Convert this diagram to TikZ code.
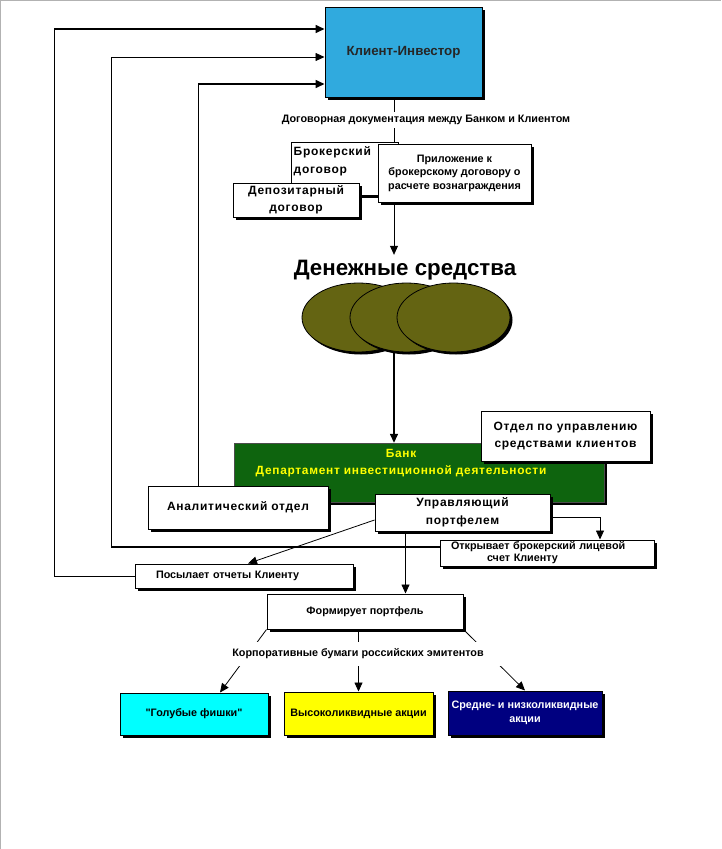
\documentclass[tikz,border=0pt]{standalone}
\usepackage{fontspec}
\setmainfont{Liberation Sans}
\newfontfamily\widefont{Liberation Sans}[LetterSpace=6.0]
\newfontfamily\plainfont{Liberation Sans}
\usetikzlibrary{
  arrows.meta,
  calc,
  positioning,
  shadows,
  shapes.geometric,
}
\definecolor{clientblue}{RGB}{48,170,222}
\definecolor{moneyolive}{RGB}{100,100,18}
\definecolor{bankgreen}{RGB}{14,100,14}
\definecolor{chipcyan}{RGB}{0,255,255}
\definecolor{chipyellow}{RGB}{255,255,0}
\definecolor{chipnavy}{RGB}{0,0,128}
\tikzset{
  >={Triangle[length=9pt,width=8pt]},
  shade/.style={drop shadow={shadow xshift=2.5pt, shadow yshift=-2.5pt, fill=black, opacity=1}},
  box/.style={draw, line width=1pt, fill=white, inner sep=0pt, align=center, shade},
  small/.style={font=\fontsize{10.8}{14}\selectfont\bfseries},
  wide/.style={font=\widefont\fontsize{12}{17.5}\selectfont\bfseries},
  coin/.style={ellipse, draw, line width=0.8pt, fill=moneyolive, minimum width=113, minimum height=69, inner sep=0pt, shade},
  link/.style={line width=0.8pt},
}

\begin{document}
\begin{tikzpicture}[x=1pt, y=-1pt]
  \useasboundingbox (0,0) rectangle (721,849);
  \draw[black!30] (0.5,849) -- (0.5,0.5) -- (721,0.5);

  % client and contracts
  \node[box, fill=clientblue, minimum width=157, minimum height=90,
    font=\fontsize{13.3}{15}\selectfont\bfseries, text=black!85] (client) at (403.5,52) {Клиент-Инвестор};
  \coordinate (spine) at (394,0);

  \node[box, minimum width=107, minimum height=53] (broker) at (344.5,168.5) {};
  \node[wide, anchor=north west, align=left, inner xsep=3pt, inner ysep=5pt] (brokertext)
    at (broker.north west) {Брокерский\\договор};
  \node[box, wide, minimum width=126, minimum height=34] (depo) at (296,200) {Депозитарный\\договор};
  \node[box, small, minimum width=153, minimum height=58,
    font=\fontsize{10.8}{13.5}\selectfont\bfseries] (annex) at (454.5,173)
    {Приложение к\\брокерскому договору о\\расчете вознаграждения};

  \draw[link] (client.south -| spine) -- (broker.north -| spine);
  \node[small, fill=white, inner sep=3pt] (docs) at (426,120) {Договорная документация между Банком и Клиентом};

  % money
  \node[font=\fontsize{22.3}{26}\selectfont\bfseries, inner xsep=1pt, inner ysep=5pt] (money)
    at (405,270) {Денежные средства};
  \draw[link, ->] (annex.south -| spine) -- (money.north -| spine);
  \foreach \i/\x in {1/358.5, 2/406.5, 3/453.5}
    \node[coin] (coin\i) at (\x,317.5) {};

  % bank
  \node[fill=bankgreen, draw=black!70, minimum width=370, minimum height=59, shade] (bank) at (419,472.5) {};
  \node[font=\widefont\fontsize{11.9}{17}\selectfont\bfseries, text=chipyellow, align=center] (banktext)
    at (401,463.5) {Банк\\Департамент инвестиционной деятельности};
  \draw[line width=1.4pt, ->] (coin2.south -| spine) -- (bank.north -| spine);

  \node[box, wide, minimum width=169, minimum height=50] (dept) at (565.5,436) {Отдел по управлению\\средствами клиентов};
  \node[box, wide, minimum width=180, minimum height=43] (analyst) at (238,507.5) {Аналитический отдел};
  \node[box, wide, minimum width=175, minimum height=37] (manager) at (462.5,512.5) {Управляющий\\портфелем};
  \node[box, small, minimum width=214, minimum height=26, text width=192, align=left,
    font=\fontsize{10.8}{12}\selectfont\bfseries] (account) at (547,553)
    {Открывает брокерский лицевой\\\hspace*{36pt}счет Клиенту};
  \node[box, small, minimum width=218, minimum height=24, text width=176, align=left] (report)
    at (244,576) {Посылает отчеты Клиенту};
  \node[box, small, minimum width=196, minimum height=35] (form) at (365,611.5) {Формирует портфель};

  % securities
  \node[box, small, fill=chipcyan, minimum width=148, minimum height=42] (blue) at (194,714) {\plainfont"Голубые фишки"};
  \node[box, small, fill=chipyellow, minimum width=149, minimum height=43] (high) at (358.5,713.5) {Высоколиквидные акции};
  \node[box, small, fill=chipnavy, text=white, minimum width=154, minimum height=44] (low)
    at (525,713) {Средне- и низколиквидные\\акции};

  % reports back to the client
  \coordinate (ret1) at (54,29);
  \coordinate (ret2) at (111,57);
  \coordinate (ret3) at (198,84);
  \coordinate (open) at ($(account.west)+(0,-6)$);
  \draw[link] (report.west) -| (ret1);
  \draw[line width=1.6pt, ->] (ret1) -- (ret1 -| client.west);
  \draw[line width=1.6pt] (open) -- (open -| ret2);
  \draw[link] (open -| ret2) -- (ret2);
  \draw[link, ->] (ret2) -- (ret2 -| client.west);
  \draw[link] (analyst.north -| ret3) -- (ret3);
  \draw[line width=1.6pt, ->] (ret3) -- (ret3 -| client.west);

  % manager
  \coordinate (drop) at ($(manager.south west)+(31,0)$);
  \draw[link, ->] ($(manager.east)+(0,4.5)$) -| ($(account.north)+(53,0)$);
  \draw[link, ->] ($(manager.west)+(0,7.5)$) -- ($(report.north)+(4,0)$);
  \draw[link, ->] (drop) -- (drop |- form.north);

  % portfolio
  \draw[link, ->] (form.south west) -- ($(blue.north)+(26,0)$);
  \draw[link, ->] (form.south -| high.north) -- (high.north);
  \draw[link, ->] (form.south east) -- (low.north);
  \node[small, fill=white, inner xsep=20pt, inner ysep=7pt] (corp) at (358,654) {Корпоративные бумаги российских эмитентов};
\end{tikzpicture}
\end{document}
